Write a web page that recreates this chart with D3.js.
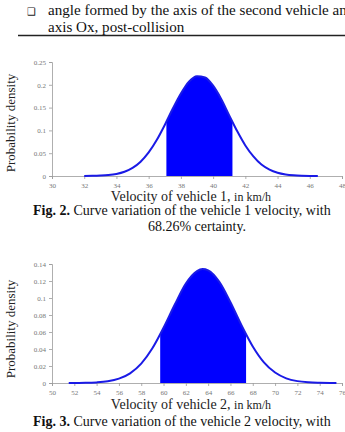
<!DOCTYPE html>
<html>
<head>
<meta charset="utf-8">
<script src="https://cdn.jsdelivr.net/npm/d3@7"></script>
<style>
  body { margin: 0; background: #fff; }
  svg text { font-family: "Liberation Serif", "DejaVu Serif", serif; }
</style>
</head>
<body>
<div id="page"></div>
<script>
const width = 345;
const height = 432;
const serif = "'Liberation Serif', serif";

// text of the page around the figures
const headerLines = ["angle formed by the axis of the second vehicle an", "axis Ox, post-collision"];
const fig2Caption = ["Curve variation of the vehicle 1 velocity, with", "68.26% certainty."];
const fig3Caption = ["Curve variation of the vehicle 2 velocity, with"];

// vehicle 1
const v1Speed = [32, 32.5, 33, 33.5, 34, 34.5, 35, 35.5, 36, 36.5, 37, 37.5, 38, 38.5, 39, 39.5,
  40, 40.5, 41, 41.5, 42, 42.5, 43, 43.5, 44, 44.5, 45, 45.5, 46, 46.5];
const v1Density = [0.0001, 0.0003, 0.0009, 0.0021, 0.0046, 0.0094, 0.0178, 0.0314, 0.0516, 0.0789,
  0.112, 0.148, 0.181, 0.207, 0.219, 0.216, 0.198, 0.169, 0.133, 0.098, 0.067, 0.043, 0.025,
  0.0139, 0.0071, 0.0034, 0.0015, 0.0006, 0.0002, 0.0001];
const v1Shade = [37.1, 41.2];
const v1XTicks = [30, 32, 34, 36, 38, 40, 42, 44, 46, 48];
const v1YTicks = [0, 0.05, 0.1, 0.15, 0.2, 0.25];

// vehicle 2
const v2Speed = [51.5, 52, 53, 54, 55, 56, 57, 58, 59, 60, 61, 62, 63, 63.5, 64, 65, 66, 67, 68,
  69, 70, 71, 72, 73, 74, 75, 75.5];
const v2Density = [0.00003, 0.0001, 0.0002, 0.0007, 0.002, 0.0051, 0.0114, 0.0228, 0.0408, 0.065,
  0.092, 0.117, 0.1317, 0.134, 0.1325, 0.119, 0.095, 0.0676, 0.043, 0.0243, 0.0123, 0.0055,
  0.0022, 0.0008, 0.0003, 0.0001, 0.00005];
const v2Shade = [59.7, 67.4];
const v2XTicks = [50, 52, 54, 56, 58, 60, 62, 64, 66, 68, 70, 72, 74, 76];
const v2YTicks = [0, 0.02, 0.04, 0.06, 0.08, 0.1, 0.12, 0.14];

const svg = d3.select("#page").append("svg")
  .attr("width", width)
  .attr("height", height);

// ---- header text with the checkbox bullet ----
svg.append("text")
  .attr("x", 27).attr("y", 15)
  .style("font-family", "'DejaVu Sans'")
  .style("font-size", "10px")
  .attr("fill", "#222")
  .text("❑");

headerLines.forEach((line, i) => {
  svg.append("text")
    .attr("x", 48).attr("y", 15 + i * 17)
    .style("font-family", serif)
    .style("font-size", "15.1px")
    .attr("fill", "#111")
    .text(line);
});

svg.append("line")
  .attr("x1", 18).attr("x2", width)
  .attr("y1", 35.5).attr("y2", 35.5)
  .attr("stroke", "#222")
  .attr("stroke-width", 1.5);

function drawDensity(cfg) {
  const x = d3.scaleLinear().domain(d3.extent(cfg.xTicks)).range([52, 342]);
  const y = d3.scaleLinear().domain(d3.extent(cfg.yTicks)).range([cfg.bottom, cfg.top]);
  const pts = cfg.speed.map((s, i) => [s, cfg.density[i]]);
  const g = svg.append("g");

  const clipId = "clip-" + cfg.id;
  svg.append("defs").append("clipPath").attr("id", clipId)
    .append("rect")
    .attr("x", x(cfg.shade[0]))
    .attr("width", x(cfg.shade[1]) - x(cfg.shade[0]))
    .attr("y", cfg.top - 10)
    .attr("height", cfg.bottom - cfg.top + 10);

  // axes
  const xAxis = g.append("g")
    .attr("transform", `translate(0,${cfg.bottom})`)
    .call(d3.axisBottom(x).tickValues(cfg.xTicks).tickSize(3).tickFormat(d3.format("d")));
  const yAxis = g.append("g")
    .attr("transform", "translate(52,0)")
    .call(d3.axisLeft(y).tickValues(cfg.yTicks).tickSize(3).tickFormat(d => d === 0 ? "0" : String(+d.toFixed(2))));
  [xAxis, yAxis].forEach(a => {
    a.attr("font-family", serif);
    a.selectAll("path, line").attr("stroke", "#9a9a9a").attr("stroke-width", 0.8);
    a.selectAll("text")
      .style("font-family", serif)
      .style("font-size", "7px")
      .attr("fill", "#777");
  });
  xAxis.selectAll("text").attr("dy", "0.9em");

  // shaded area and the curve
  g.append("path")
    .datum(pts)
    .attr("clip-path", `url(#${clipId})`)
    .attr("fill", "#0000ff")
    .attr("d", d3.area().x(d => x(d[0])).y0(cfg.bottom).y1(d => y(d[1])).curve(d3.curveMonotoneX));

  g.append("path")
    .datum(pts)
    .attr("fill", "none")
    .attr("stroke", "#1a1ae6")
    .attr("stroke-width", 2)
    .attr("d", d3.line().x(d => x(d[0])).y(d => y(d[1])).curve(d3.curveMonotoneX));

  // labels
  svg.append("text")
    .attr("transform", `translate(15,${cfg.yLabelMid}) rotate(-90)`)
    .attr("text-anchor", "middle")
    .style("font-family", serif)
    .style("font-size", "13px")
    .attr("fill", "#222")
    .text("Probability density");

  const xl = svg.append("text")
    .attr("x", 191).attr("y", cfg.xLabelY)
    .attr("text-anchor", "middle")
    .style("font-family", serif)
    .style("font-size", "14px")
    .attr("fill", "#222");
  xl.append("tspan").text(`Velocity of vehicle ${cfg.id}, `);
  xl.append("tspan").style("font-size", "12px").text("in km/h");

  cfg.caption.forEach((line, i) => {
    const t = svg.append("text")
      .attr("x", i === 0 ? 33 : 197)
      .attr("y", cfg.captionY + i * 16)
      .attr("text-anchor", i === 0 ? "start" : "middle")
      .style("font-family", serif)
      .style("font-size", "14px")
      .attr("fill", "#111");
    if (i === 0) {
      t.append("tspan").style("font-weight", "bold").text(`Fig. ${cfg.fig}.`);
      t.append("tspan").text(" " + line);
    } else {
      t.text(line);
    }
  });
}

drawDensity({
  id: 1, fig: 2, speed: v1Speed, density: v1Density, shade: v1Shade,
  xTicks: v1XTicks, yTicks: v1YTicks, top: 62, bottom: 176,
  yLabelMid: 123, xLabelY: 201, captionY: 215, caption: fig2Caption
});

drawDensity({
  id: 2, fig: 3, speed: v2Speed, density: v2Density, shade: v2Shade,
  xTicks: v2XTicks, yTicks: v2YTicks, top: 264, bottom: 383,
  yLabelMid: 329, xLabelY: 409, captionY: 426, caption: fig3Caption
});
</script>
</body>
</html>
